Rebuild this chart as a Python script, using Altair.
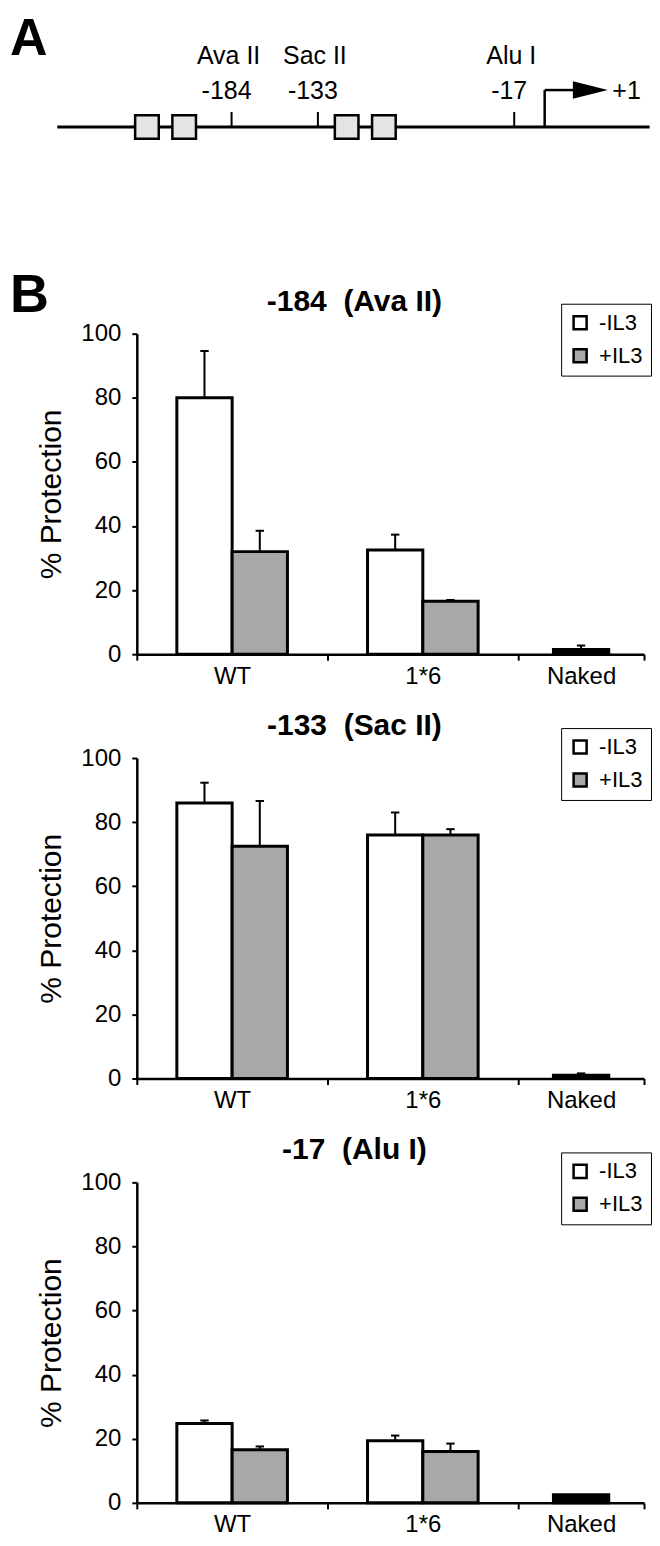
import altair as alt
import pandas as pd

FONT = "Liberation Sans, Arial, Helvetica, sans-serif"

# ---------------- Panel A : promoter map ----------------
site_bp = [-184, -133, -17]
site_enzyme = ["Ava II", "Sac II", "Alu I"]
site_label = ["-184", "-133", "-17"]
box_bp = [-234, -212, -116, -94]
line_bp = [-287, 63]
tss_bp = [1]
tss_label = ["+1"]

# ---------------- Panel B : % protection ----------------
groups = ["WT", "1*6"]
series = ["-IL3", "+IL3"]
naked_name = "Naked"
titles = ["-184\u00a0\u00a0(Ava II)", "-133\u00a0\u00a0(Sac II)", "-17\u00a0\u00a0(Alu I)"]
# one row per site, values for [WT, 1*6]
minus_il3 = [[80.0, 32.5], [86.0, 76.0], [24.8, 19.4]]
minus_il3_err = [[14.6, 4.8], [6.3, 7.0], [0.9, 1.6]]
plus_il3 = [[32.0, 16.5], [72.5, 76.0], [16.6, 16.0]]
plus_il3_err = [[6.5, 0.4], [14.1, 1.8], [1.0, 2.5]]
naked = [1.5, 1.0, 2.5]
naked_err = [1.2, 0.6, 0.0]

# ---------------- layout ----------------
W, H = 508, 321
TOP_PAD = 4
H_A = 220 - TOP_PAD
X_END = 2.16                      # visible extent of the category axis
BAR = 0.29                        # bar width in category units
CAP = 0.022
boundaries = [-0.5, 0.5, 1.5, X_END]
centers = [(boundaries[i] + boundaries[i + 1]) / 2 for i in range(3)]
cats = groups + [naked_name]

# ---------------- Panel A chart ----------------
xa = alt.Scale(domain=[-240, 59.7], nice=False, zero=False)
LINE_Y = 117 - TOP_PAD
ARROW_Y = 80 - TOP_PAD

sites_df = pd.DataFrame({"bp": site_bp, "enzyme": site_enzyme, "pos": site_label})
boxes_df = pd.DataFrame({"bp": box_bp})
line_df = pd.DataFrame({"x0": [line_bp[0]], "x1": [line_bp[1]]})
tss_df = pd.DataFrame({"bp": tss_bp, "lab": tss_label})
tss_df["head_base"] = tss_df["bp"] + 17
tss_df["head_mid"] = tss_df["bp"] + 27
tss_df["lab_x"] = tss_df["bp"] + 40

a_line = alt.Chart(line_df).mark_rule(color="black", strokeWidth=3).encode(
    x=alt.X("x0:Q", scale=xa, axis=None), x2="x1:Q", y=alt.value(LINE_Y))
a_ticks = alt.Chart(sites_df).mark_rule(color="black", strokeWidth=2).encode(
    x=alt.X("bp:Q", scale=xa, axis=None), y=alt.value(LINE_Y - 15), y2=alt.value(LINE_Y))
a_boxes = alt.Chart(boxes_df).mark_square(size=560, filled=True, fill="#e4e4e4", stroke="black",
                                          strokeWidth=2.5, opacity=1).encode(
    x=alt.X("bp:Q", scale=xa, axis=None), y=alt.value(LINE_Y))
a_enz = alt.Chart(sites_df).mark_text(font=FONT, fontSize=25, color="black", baseline="alphabetic", dx=-3).encode(
    x=alt.X("bp:Q", scale=xa, axis=None), y=alt.value(54 - TOP_PAD), text="enzyme:N")
a_pos = alt.Chart(sites_df).mark_text(font=FONT, fontSize=25, color="black", baseline="alphabetic", dx=-5).encode(
    x=alt.X("bp:Q", scale=xa, axis=None), y=alt.value(89 - TOP_PAD), text="pos:N")
a_tss_v = alt.Chart(tss_df).mark_rule(color="black", strokeWidth=2.5).encode(
    x=alt.X("bp:Q", scale=xa, axis=None), y=alt.value(ARROW_Y), y2=alt.value(LINE_Y))
a_tss_h = alt.Chart(tss_df).mark_rule(color="black", strokeWidth=2.5).encode(
    x=alt.X("bp:Q", scale=xa, axis=None), x2="head_base:Q", y=alt.value(ARROW_Y))
a_head = alt.Chart(tss_df).mark_point(shape="M -1 -0.5 L 1 0 L -1 0.5 Z", size=1225, filled=True,
                                      color="black", opacity=1).encode(
    x=alt.X("head_mid:Q", scale=xa, axis=None), y=alt.value(ARROW_Y))
a_plus = alt.Chart(tss_df).mark_text(font=FONT, fontSize=25, color="black", align="left",
                                     baseline="middle").encode(
    x=alt.X("lab_x:Q", scale=xa, axis=None), y=alt.value(ARROW_Y + 1), text="lab:N")
a_letter = alt.Chart(pd.DataFrame({"t": ["A"]})).mark_text(
    font=FONT, fontSize=52, fontWeight="bold", color="black", align="left", baseline="top").encode(
    x=alt.value(-127), y=alt.value(0), text="t:N")

panel_a = alt.layer(a_line, a_ticks, a_boxes, a_enz, a_pos, a_tss_v, a_tss_h, a_head, a_plus,
                    a_letter).properties(width=W, height=H_A)

# ---------------- Panel B charts ----------------
center_test = " || ".join(f"abs(datum.value - ({c!r})) < 1e-6" for c in centers)
label_expr = ""
for c, name in zip(centers, cats):
    label_expr += f"abs(datum.value - ({c!r})) < 1e-6 ? '{name}' : "
label_expr += "''"

xs = alt.Scale(domain=[-0.5, X_END], nice=False, zero=False)
ys = alt.Scale(domain=[0, 100], nice=False)

x_axis = alt.Axis(values=boundaries + centers, labelExpr=label_expr, title=None, grid=False,
                  tickOpacity={"condition": {"test": center_test, "value": 0}, "value": 1},
                  domainColor="black", domainWidth=2.5, tickColor="black", tickWidth=2, tickSize=6,
                  labelFont=FONT, labelFontSize=24, labelColor="black", labelPadding=4,
                  labelOverlap=False, labelFlush=False, labelBound=False)
y_axis = alt.Axis(values=[0, 20, 40, 60, 80, 100], title="% Protection", grid=False,
                  domainColor="black", domainWidth=2.5, tickColor="black", tickWidth=2, tickSize=5,
                  labelFont=FONT, labelFontSize=24, labelColor="black", labelPadding=11,
                  titleFont=FONT, titleFontSize=30, titleFontWeight="normal", titleColor="black",
                  titlePadding=14)


def bar_panel(k):
    rows = []
    for gi, g in enumerate(groups):
        vals = [minus_il3[k][gi], plus_il3[k][gi]]
        errs = [minus_il3_err[k][gi], plus_il3_err[k][gi]]
        for si, s in enumerate(series):
            x0 = centers[gi] + (si - 1) * BAR
            rows.append({"cat": g, "series": s, "value": vals[si], "top": vals[si] + errs[si],
                         "x0": x0, "x1": x0 + BAR})
    x0 = centers[2] - BAR / 2
    rows.append({"cat": naked_name, "series": naked_name, "value": naked[k],
                 "top": naked[k] + naked_err[k], "x0": x0, "x1": x0 + BAR})
    df = pd.DataFrame(rows)
    df["xc"] = (df["x0"] + df["x1"]) / 2
    df["c0"] = df["xc"] - CAP
    df["c1"] = df["xc"] + CAP
    base = alt.Chart(df)

    bars = base.transform_filter(alt.datum.series != naked_name).mark_rect(
        stroke="black", strokeWidth=3).encode(
        x=alt.X("x0:Q", scale=xs, axis=x_axis), x2="x1:Q",
        y=alt.Y("value:Q", scale=ys, axis=y_axis), y2=alt.datum(0),
        fill=alt.Fill("series:N", scale=alt.Scale(domain=series, range=["white", "#a8a8a8"]),
                      legend=alt.Legend(title=None, orient="none", legendX=425, legendY=-30,
                                        symbolType="square", symbolSize=170,
                                        symbolStrokeColor="black", symbolStrokeWidth=2.5,
                                        labelFont=FONT, labelFontSize=22, labelColor="black",
                                        labelOffset=8, rowPadding=9, padding=8,
                                        strokeColor="black", fillColor="white", cornerRadius=0)))
    naked_bar = base.transform_filter(alt.datum.series == naked_name).mark_rect(
        stroke="black", strokeWidth=3, fill="black").encode(
        x=alt.X("x0:Q", scale=xs), x2="x1:Q", y=alt.Y("value:Q", scale=ys), y2=alt.datum(0))
    err = base.transform_filter(alt.datum.top > alt.datum.value)
    err_v = err.mark_rule(color="black", strokeWidth=2).encode(
        x=alt.X("xc:Q", scale=xs), y=alt.Y("value:Q", scale=ys), y2="top:Q")
    err_c = err.mark_rule(color="black", strokeWidth=2).encode(
        x=alt.X("c0:Q", scale=xs), x2="c1:Q", y=alt.Y("top:Q", scale=ys))
    title = alt.Chart(pd.DataFrame({"t": [titles[k]]})).mark_text(
        font=FONT, fontSize=30, fontWeight="bold", color="black", baseline="middle").encode(
        x=alt.value(W / 2 - 36), y=alt.value(-32), text="t:N")
    layers = [bars, naked_bar, err_v, err_c, title]
    if k == 0:
        layers.append(alt.Chart(pd.DataFrame({"t": ["B"]})).mark_text(
            font=FONT, fontSize=54, fontWeight="bold", color="black", align="left",
            baseline="alphabetic").encode(x=alt.value(-127), y=alt.value(-22), text="t:N"))
    return alt.layer(*layers).properties(width=W, height=H)


chart = alt.vconcat(panel_a, bar_panel(0), bar_panel(1), bar_panel(2),
                    spacing=104, bounds="flush").resolve_scale(fill="independent").properties(
    padding={"left": 2, "top": TOP_PAD, "right": 0, "bottom": 0}
).configure(font=FONT, background="white").configure_view(strokeWidth=0)

chart.save("out.html", embed_options={"renderer": "svg", "actions": False})
